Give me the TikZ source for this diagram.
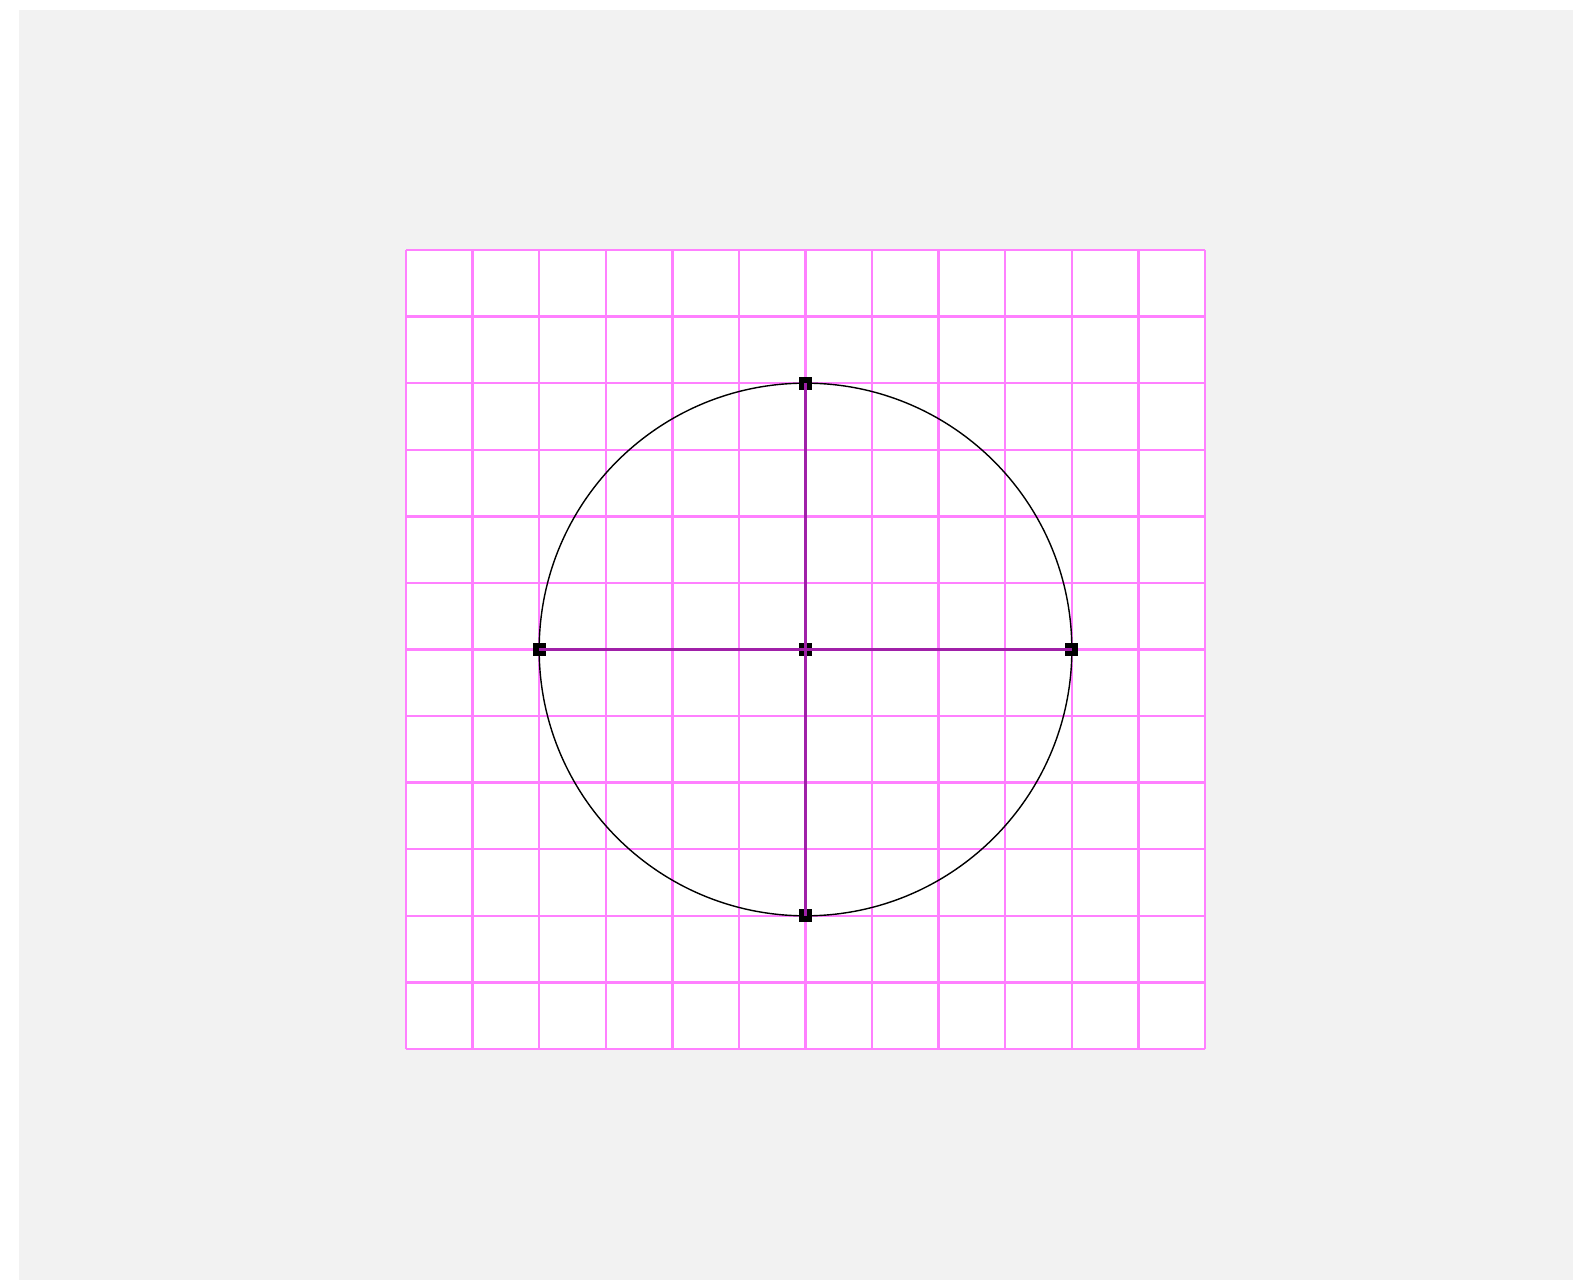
\documentclass[tikz,border=0pt]{standalone}
\begin{document}
\begin{tikzpicture}[x=0.01cm,y=-0.01cm,
  gridline/.style={draw=gridmag,line width=0.7pt},
  marker/.style={fill=black,draw=none,minimum size=0.13cm,inner sep=0pt,outer sep=0pt,shape=rectangle},
  diam/.style={draw=diampurple,line width=0.7pt},
  ring/.style={draw=black,line width=0.4pt}]
\definecolor{bggray}{HTML}{F2F2F2}
\definecolor{gridmag}{HTML}{FF80FF}
\definecolor{diampurple}{HTML}{A020A8}
\useasboundingbox (0,0) rectangle (1573,1280);
\fill[white] (0,0) rectangle (1573,1280);
\fill[bggray] (19,10) rectangle (1573,1280);
\fill[white] (406,250) rectangle (1205,1049);
\foreach \i in {0,...,12} {
  \draw[gridline] ({406+66.583*\i},250) -- ({406+66.583*\i},1049);
  \draw[gridline] (406,{250+66.583*\i}) -- (1205,{250+66.583*\i});
}
\coordinate (C) at (805.5,649.5);
\draw[ring] (C) circle[radius=266.33];
\node[marker] (T) at (805.5,383.2) {};
\node[marker] (B) at (805.5,915.8) {};
\node[marker] (L) at (539.2,649.5) {};
\node[marker] (R) at (1071.8,649.5) {};
\node[marker] (M) at (C) {};
\draw[diam] (L.center) -- (R.center);
\draw[diam] (T.center) -- (B.center);
\end{tikzpicture}
\end{document}
